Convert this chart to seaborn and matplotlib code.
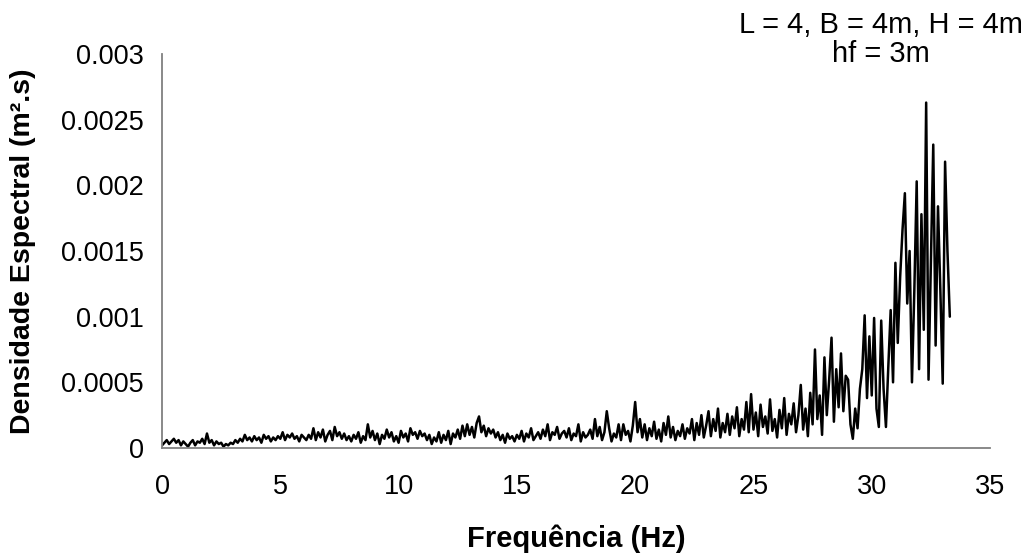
import numpy as np
import matplotlib
matplotlib.use("Agg")
import matplotlib.pyplot as plt
import seaborn as sns

# espectro (unidades de 1e-5 m2.s), passo de 0.1 Hz
freq_step = 0.1
dens_0_10 = [
    2, 4, 6, 3, 5, 7, 4, 6, 2, 5,
    3, 1, 4, 6, 2, 5, 4, 7, 3, 11,
    4, 6, 2, 5, 3, 4, 1, 3, 2, 4,
    3, 6, 4, 7, 5, 10, 6, 8, 5, 9,
    6, 8, 4, 10, 7, 9, 5, 8, 6, 9,
    7, 12, 6, 10, 8, 11, 7, 9, 5, 10,
    8, 6, 10, 7, 15, 6, 12, 8, 14, 5,
    10, 13, 6, 16, 9, 12, 7, 11, 6, 9,
    5, 10, 7, 12, 4, 9, 6, 18, 8, 13,
    6, 11, 3, 10, 7, 14, 8, 12, 5, 9,
]
dens_10_20 = [
    4, 13, 8, 11, 5, 15, 10, 12, 7, 13,
    9, 11, 6, 10, 3, 8, 5, 12, 4, 10,
    6, 13, 3, 11, 8, 14, 7, 17, 9, 18,
    10, 16, 8, 19, 24, 12, 17, 9, 15, 11,
    14, 8, 12, 6, 10, 4, 11, 7, 9, 5,
    10, 7, 13, 5, 11, 8, 15, 6, 9, 12,
    7, 14, 9, 18, 6, 12, 10, 16, 7, 11,
    13, 8, 15, 6, 11, 9, 18, 5, 12, 8,
    10, 14, 7, 22, 9, 16, 6, 12, 28, 15,
    5, 11, 8, 18, 6, 18, 10, 13, 5, 17,
]
dens_20_30 = [
    35, 12, 22, 8, 18, 6, 15, 9, 20, 7,
    14, 5, 19, 10, 24, 8, 16, 6, 13, 9,
    18, 7, 15, 11, 22, 6, 19, 10, 25, 8,
    17, 28, 9, 22, 13, 30, 8, 19, 12, 26,
    10, 24, 15, 31, 9, 22, 14, 35, 12, 41,
    14, 27, 9, 33, 16, 24, 11, 37, 13, 22,
    8, 29, 15, 38, 10, 26, 18, 34, 12, 25,
    48, 14, 30, 9, 42, 18, 75, 22, 40, 10,
    69, 25, 52, 84, 20, 60, 31, 72, 28, 55,
    52, 18, 7, 30, 15, 45, 60, 101, 38, 85,
]
dens_30_end = [
    40, 99, 30, 16, 97, 45, 16, 62, 105, 50,
    141, 80, 130, 166, 194, 110, 150, 50, 120, 203,
    60, 178, 90, 263, 52, 140, 231, 78, 184, 120,
    49, 218, 150, 100,
]

dens = np.array(dens_0_10 + dens_10_20 + dens_20_30 + dens_30_end) * 1e-5
freq = np.round(np.arange(len(dens)) * freq_step, 2)

sns.set_theme(style="white")
plt.rcParams["font.family"] = ["Liberation Sans", "DejaVu Sans"]
plt.rcParams["text.color"] = "black"

fig = plt.figure(figsize=(10.3, 5.59), dpi=100)
ax = fig.add_axes([0.1573, 0.1986, 0.8039, 0.7048])

sns.lineplot(x=freq, y=dens, ax=ax, color="black", linewidth=1.8)

ax.set_xlim(0, 35)
ax.set_ylim(0, 0.003)
ax.set_xticks([0, 5, 10, 15, 20, 25, 30, 35])
ax.set_yticks([0, 0.0005, 0.001, 0.0015, 0.002, 0.0025, 0.003])
ax.set_yticklabels(["0", "0.0005", "0.001", "0.0015", "0.002", "0.0025", "0.003"])
ax.tick_params(axis="both", direction="out", length=7, width=1.2, color="#808080",
               labelsize=19.5, labelcolor="black", pad=6)
ax.tick_params(axis="x", pad=12)

for s in ["top", "right"]:
    ax.spines[s].set_visible(False)
for s in ["left", "bottom"]:
    ax.spines[s].set_color("#808080")
    ax.spines[s].set_linewidth(1.3)

fig.text(0.0225, 0.551, "Densidade Espectral (m\u00b2.s)", rotation=90,
         ha="center", va="center", fontsize=20.5, fontweight="bold", color="black")
fig.text(0.560, 0.036, "Frequ\u00eancia (Hz)", ha="center", va="center",
         fontsize=21, fontweight="bold", color="black")
fig.text(0.855, 0.930, "L = 4, B = 4m, H = 4m\nhf = 3m", ha="center", va="center",
         fontsize=21, linespacing=1.05, color="black")

fig.savefig("out.png", dpi=100, facecolor="white")
